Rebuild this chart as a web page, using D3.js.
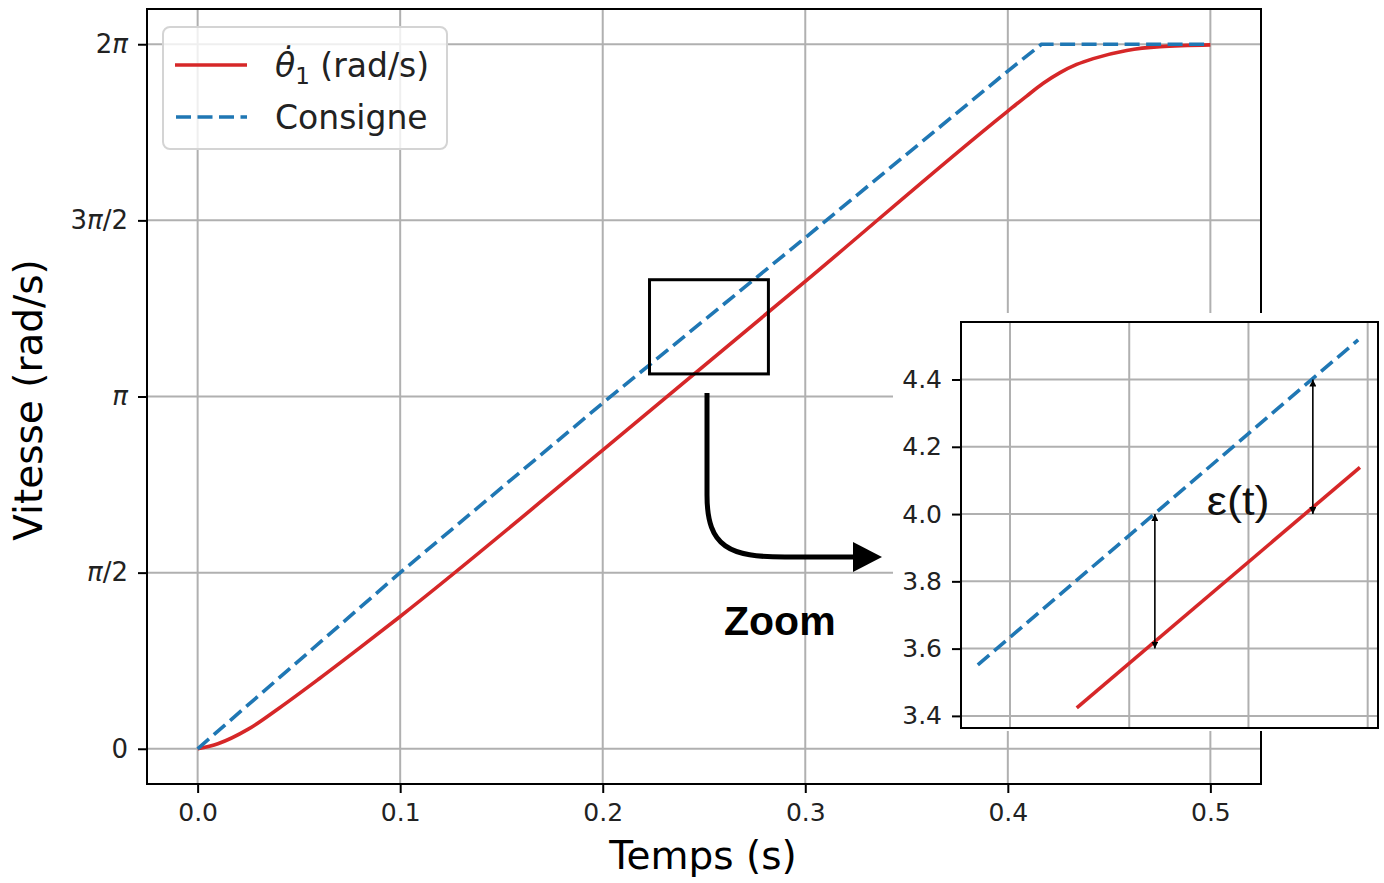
<!DOCTYPE html>
<html>
<head>
<meta charset="utf-8">
<script src="https://cdn.jsdelivr.net/npm/d3@7"></script>
<style>
  body { margin: 0; background: #fff; }
  text { font-family: "DejaVu Sans", sans-serif; }
</style>
</head>
<body>
<svg id="chart" width="1384" height="883"></svg>
<script>
const PI = Math.PI;

// consigne (dashed blue)
const consigneT = [0, 0.1, 0.2, 0.3, 0.4, 0.4166, 0.5];
const consigneV = [0, 1.571, 3.083, 4.558, 6.044, 6.283, 6.283];

// measured speed theta_dot_1 (red)
const thetaT = [0, 0.01, 0.025, 0.04, 0.06, 0.08, 0.1, 0.2, 0.3, 0.4,
  0.4093, 0.4175, 0.4258, 0.434, 0.4422, 0.4587, 0.4751, 0.5];
const thetaV = [0, 0.045, 0.175, 0.36, 0.625, 0.90, 1.18, 2.663, 4.168, 5.687,
  5.821, 5.935, 6.030, 6.103, 6.155, 6.228, 6.262, 6.277];

const xTicks = [0, 0.1, 0.2, 0.3, 0.4, 0.5];
const yTicks = [0, PI / 2, PI, 3 * PI / 2, 2 * PI];
// tick labels split in [upright, italic, upright] parts
const yTickLabels = [['0', '', ''], ['', 'π', '/2'], ['', 'π', ''], ['3', 'π', '/2'], ['2', 'π', '']];

// zoom window (data coords) drawn on the main plot
const zoomBoxT = [0.2231, 0.2818];
const zoomBoxV = [3.343, 4.183];

// inset data
const insetConsigneT = [0.2346, 0.2984];
const insetConsigneV = [3.552, 4.518];
const insetThetaT = [0.2512, 0.2987];
const insetThetaV = [3.424, 4.139];
const insetXTicks = [0.24, 0.26, 0.28, 0.30];
const insetYTicks = [3.4, 3.6, 3.8, 4.0, 4.2, 4.4];
// error arrows: [t, from, to]
const errArrows = [[0.2643, 4.0, 3.6], [0.2908, 4.4, 4.0]];

const RED = '#d62728', BLUE = '#1f77b4', GRID = '#b0b0b0';
const DASH = '15,6.5';

const svg = d3.select('#chart');

/* ---------- main axes ---------- */
const x = d3.scaleLinear().domain([-0.025, 0.525]).range([147, 1261]);
const y = d3.scaleLinear().domain([-0.05 * 2 * PI, 1.05 * 2 * PI]).range([784, 9]);

const main = svg.append('g');
main.append('g').selectAll('line').data(xTicks).join('line')
    .attr('x1', d => x(d)).attr('x2', d => x(d))
    .attr('y1', 9).attr('y2', 784)
    .attr('stroke', GRID).attr('stroke-width', 2);
main.append('g').selectAll('line').data(yTicks).join('line')
    .attr('x1', 147).attr('x2', 1261)
    .attr('y1', d => y(d)).attr('y2', d => y(d))
    .attr('stroke', GRID).attr('stroke-width', 2);

const lineMain = (ts, vs, curve) => d3.line()
    .x(i => x(ts[i])).y(i => y(vs[i])).curve(curve)(d3.range(ts.length));

main.append('path')
    .attr('d', lineMain(thetaT, thetaV, d3.curveMonotoneX))
    .attr('fill', 'none').attr('stroke', RED).attr('stroke-width', 3.6);
main.append('path')
    .attr('d', lineMain(consigneT, consigneV, d3.curveLinear))
    .attr('fill', 'none').attr('stroke', BLUE).attr('stroke-width', 3.6)
    .attr('stroke-dasharray', DASH);

const xAxis = main.append('g').attr('transform', 'translate(0,784)')
    .call(d3.axisBottom(x).tickValues(xTicks).tickFormat(d3.format('.1f')).tickSize(9).tickPadding(10));
const yAxis = main.append('g').attr('transform', 'translate(147,0)')
    .call(d3.axisLeft(y).tickValues(yTicks).tickFormat('').tickSize(9).tickPadding(10));
[xAxis, yAxis].forEach(a => {
    a.select('.domain').remove();
    a.selectAll('line').attr('stroke', '#000').attr('stroke-width', 2);
    a.selectAll('text').attr('font-size', 25).attr('fill', '#222')
        .style('font-family', '"DejaVu Sans", sans-serif');
});
yAxis.selectAll('.tick text').attr('font-size', 26).each(function (d, i) {
    const t = d3.select(this);
    const parts = yTickLabels[i];
    t.append('tspan').text(parts[0]);
    t.append('tspan').attr('font-style', 'italic').text(parts[1]);
    t.append('tspan').text(parts[2]);
});

main.append('rect')
    .attr('x', 147).attr('y', 9).attr('width', 1114).attr('height', 775)
    .attr('fill', 'none').attr('stroke', '#000').attr('stroke-width', 2);

svg.append('text').attr('x', 703).attr('y', 869)
    .attr('text-anchor', 'middle').attr('font-size', 39).text('Temps (s)');
svg.append('text').attr('transform', 'translate(42,400) rotate(-90)')
    .attr('text-anchor', 'middle').attr('font-size', 39).text('Vitesse (rad/s)');

/* ---------- legend ---------- */
const leg = svg.append('g');
leg.append('rect').attr('x', 163).attr('y', 27).attr('width', 284).attr('height', 122).attr('rx', 7)
    .attr('fill', '#fff').attr('fill-opacity', 0.8).attr('stroke', '#d4d4d4').attr('stroke-width', 2);
leg.append('line').attr('x1', 175).attr('x2', 247).attr('y1', 65).attr('y2', 65)
    .attr('stroke', RED).attr('stroke-width', 3.6);
leg.append('line').attr('x1', 176).attr('x2', 247).attr('y1', 117).attr('y2', 117)
    .attr('stroke', BLUE).attr('stroke-width', 3.6).attr('stroke-dasharray', DASH);
const lt = leg.append('text').attr('x', 275).attr('y', 77).attr('font-size', 33).attr('fill', '#222');
lt.append('tspan').attr('font-style', 'italic').text('θ\u0307');
lt.append('tspan').attr('dy', 7).attr('font-size', 23).text('1');
lt.append('tspan').attr('dy', -7).text(' (rad/s)');
leg.append('text').attr('x', 275).attr('y', 129).attr('font-size', 33).attr('fill', '#222').text('Consigne');

/* ---------- zoom annotation ---------- */
svg.append('rect')
    .attr('x', x(zoomBoxT[0])).attr('y', y(zoomBoxV[1]))
    .attr('width', x(zoomBoxT[1]) - x(zoomBoxT[0])).attr('height', y(zoomBoxV[0]) - y(zoomBoxV[1]))
    .attr('fill', 'none').attr('stroke', '#000').attr('stroke-width', 3);
svg.append('path')
    .attr('d', 'M707,393 L707,495 C707,548 730,557 785,557 L856,557')
    .attr('fill', 'none').attr('stroke', '#000').attr('stroke-width', 5);
svg.append('path').attr('d', 'M853,542 L882,557 L853,572 Z').attr('fill', '#000');
svg.append('text').attr('x', 724).attr('y', 635)
    .attr('font-size', 41).attr('font-weight', 'bold')
    .style('font-family', '"Liberation Sans", Arial, sans-serif').text('Zoom');

/* ---------- inset ---------- */
svg.append('rect').attr('x', 893).attr('y', 313).attr('width', 491).attr('height', 418).attr('fill', '#fff');

const xi = d3.scaleLinear().domain([0.23178, 0.30173]).range([961, 1378]);
const yi = d3.scaleLinear().domain([3.364, 4.571]).range([728, 322]);
const inset = svg.append('g');
inset.append('g').selectAll('line').data(insetXTicks).join('line')
    .attr('x1', d => xi(d)).attr('x2', d => xi(d)).attr('y1', 322).attr('y2', 728)
    .attr('stroke', GRID).attr('stroke-width', 2);
inset.append('g').selectAll('line').data(insetYTicks).join('line')
    .attr('x1', 961).attr('x2', 1378).attr('y1', d => yi(d)).attr('y2', d => yi(d))
    .attr('stroke', GRID).attr('stroke-width', 2);

const lineInset = (ts, vs) => d3.line().x(i => xi(ts[i])).y(i => yi(vs[i]))(d3.range(ts.length));
inset.append('path').attr('d', lineInset(insetThetaT, insetThetaV))
    .attr('fill', 'none').attr('stroke', RED).attr('stroke-width', 3.6);
inset.append('path').attr('d', lineInset(insetConsigneT, insetConsigneV))
    .attr('fill', 'none').attr('stroke', BLUE).attr('stroke-width', 3.6).attr('stroke-dasharray', DASH);

svg.append('defs').append('marker')
    .attr('id', 'head').attr('viewBox', '0 0 10 10').attr('refX', 10).attr('refY', 5)
    .attr('markerWidth', 7).attr('markerHeight', 7).attr('markerUnits', 'userSpaceOnUse')
    .attr('orient', 'auto-start-reverse')
    .append('path').attr('d', 'M0,0 L10,5 L0,10 Z').attr('fill', '#000');
inset.append('g').selectAll('line').data(errArrows).join('line')
    .attr('x1', d => xi(d[0])).attr('x2', d => xi(d[0]))
    .attr('y1', d => yi(d[1])).attr('y2', d => yi(d[2]))
    .attr('stroke', '#000').attr('stroke-width', 1.6)
    .attr('marker-start', 'url(#head)').attr('marker-end', 'url(#head)');

inset.append('text').attr('x', xi(0.2730)).attr('y', yi(4.0) + 1)
    .attr('font-size', 40).attr('fill', '#111')
    .attr('textLength', 63).attr('lengthAdjust', 'spacingAndGlyphs')
    .style('font-family', '"Liberation Sans", Arial, sans-serif').text('ε(t)');

const yiAxis = inset.append('g').attr('transform', 'translate(961,0)')
    .call(d3.axisLeft(yi).tickValues(insetYTicks).tickFormat(d3.format('.1f')).tickSize(9).tickPadding(10));
yiAxis.select('.domain').remove();
yiAxis.selectAll('line').attr('stroke', '#000').attr('stroke-width', 2);
yiAxis.selectAll('text').attr('font-size', 25).attr('fill', '#222')
    .style('font-family', '"DejaVu Sans", sans-serif');
inset.append('rect').attr('x', 961).attr('y', 322).attr('width', 417).attr('height', 406)
    .attr('fill', 'none').attr('stroke', '#000').attr('stroke-width', 2);
</script>
</body>
</html>
